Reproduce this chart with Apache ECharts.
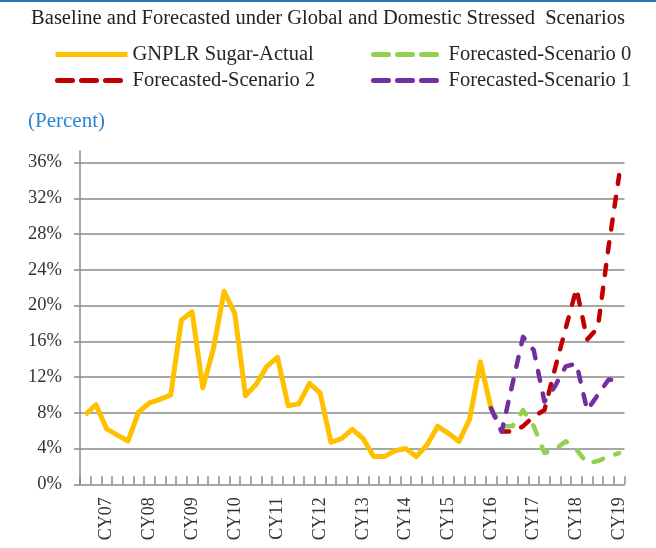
<!DOCTYPE html>
<html><head><meta charset="utf-8">
<script src="https://cdn.jsdelivr.net/npm/echarts@6/dist/echarts.min.js"></script>
<style>html,body{margin:0;padding:0;background:#fff}#c{width:656px;height:548px}</style>
</head><body><div id="c"></div>
<script>
// Quarterly categories: Jun-07 .. Dec-19 (51 quarters)
const quarters = [
  'Jun-07','Sep-07','Dec-07',
  'Mar-08','Jun-08','Sep-08','Dec-08',
  'Mar-09','Jun-09','Sep-09','Dec-09',
  'Mar-10','Jun-10','Sep-10','Dec-10',
  'Mar-11','Jun-11','Sep-11','Dec-11',
  'Mar-12','Jun-12','Sep-12','Dec-12',
  'Mar-13','Jun-13','Sep-13','Dec-13',
  'Mar-14','Jun-14','Sep-14','Dec-14',
  'Mar-15','Jun-15','Sep-15','Dec-15',
  'Mar-16','Jun-16','Sep-16','Dec-16',
  'Mar-17','Jun-17','Sep-17','Dec-17',
  'Mar-18','Jun-18','Sep-18','Dec-18',
  'Mar-19','Jun-19','Sep-19','Dec-19'
];
const yearLabels = ['CY07','CY08','CY09','CY10','CY11','CY12','CY13','CY14','CY15','CY16','CY17','CY18','CY19'];
const yTickValues = [0,4,8,12,16,20,24,28,32,36];
const gridValues = [4,8,12,16,20,24,28,32,36];

// GNPLR Sugar - Actual (Jun-07 .. Dec-16)
const actual = [7.8,8.9,6.2,5.5,4.85,8.1,9.1,9.5,10.0,18.4,19.3,10.8,15.2,21.6,19.1,9.9,11.2,13.2,14.2,8.8,9.0,11.3,10.2,4.7,5.1,6.15,5.15,3.1,3.1,3.75,4.0,3.1,4.4,6.5,5.7,4.8,7.3,13.7,8.5];
// Forecasts (Dec-16 .. Dec-19)
const forecastStart = 38;
const scenario0 = [8.5,6.5,6.5,8.3,6.5,3.5,3.9,4.8,3.9,2.35,2.6,3.1,3.5];
const scenario1 = [8.5,5.9,11.2,16.5,15.0,9.25,11.0,13.2,13.5,8.3,10.0,11.7,11.7];
const scenario2 = [8.5,5.9,5.9,6.5,7.6,8.3,13.0,17.5,21.9,16.2,17.5,26.5,34.6];

const names = ['GNPLR Sugar-Actual','Forecasted-Scenario 0','Forecasted-Scenario 2','Forecasted-Scenario 1'];
const colors = {'GNPLR Sugar-Actual':'#FFC000','Forecasted-Scenario 0':'#92D050','Forecasted-Scenario 2':'#C00000','Forecasted-Scenario 1':'#7030A0'};

function fromStart(arr, start){ return quarters.map((q,i)=> (i>=start && i-start<arr.length) ? arr[i-start] : null); }

const FONT = 'Liberation Serif';
const GRAY = '#8a8a8a';
const dash = [10,13];

function lineSeries(name, data, dashed){
  return {
    name, type:'line', data, symbol:'none', connectNulls:false, xAxisIndex:0, yAxisIndex:0,
    lineStyle:{color:colors[name], width: dashed?4.5:5, type: dashed?dash:'solid', cap: dashed?'round':'butt', join:'round'},
    itemStyle:{color:colors[name]}
  };
}

function legendAt(name, left, top, dashed){
  return {
    data:[name], left, top, orient:'horizontal', selectedMode:false, padding:0,
    itemWidth: dashed?70:72, itemHeight:14,
    textStyle:{fontFamily:FONT, fontSize:20.5, color:'#262626'},
    itemStyle:{opacity:0, borderWidth:0},
    lineStyle:{width:5, type: dashed?[15,9]:'solid', opacity:1}
  };
}

const option = {
  animation:false,
  backgroundColor:'#ffffff',
  textStyle:{fontFamily:FONT},
  graphic:[{type:'rect', shape:{x:0,y:0,width:656,height:2}, style:{fill:'#2e75b6'}}],
  title:[
    {text:'Baseline and Forecasted under Global and Domestic Stressed  Scenarios', left:'center', top:3,
     textStyle:{fontFamily:FONT, fontSize:20.5, fontWeight:'normal', color:'#222'}},
    {text:'(Percent)', left:23, top:106, textStyle:{fontFamily:FONT, fontSize:21, fontWeight:'normal', color:'#2a86d1'}}
  ],
  legend:[
    legendAt(names[0], 53, 44, false),
    legendAt(names[1], 371, 44, true),
    legendAt(names[2], 55, 70, true),
    legendAt(names[3], 371, 70, true)
  ],
  grid:{left:80, right:31.5, top:151, bottom:63.7, containLabel:false},
  xAxis:[
    {type:'category', data:quarters, position:'bottom', boundaryGap:true,
     axisLine:{show:false}, axisTick:{show:false}, splitLine:{show:false},
     axisLabel:{interval:(i)=> i%4===2, rotate:90, margin:13, fontFamily:FONT, fontSize:18, color:'#333',
       formatter:(v,i)=> yearLabels[(i-2)/4] || ''}},
    {type:'category', data:quarters, position:'top', boundaryGap:true,
     axisLine:{show:true, lineStyle:{color:GRAY, width:1.5}},
     axisTick:{show:true, interval:0, length:8, lineStyle:{color:GRAY, width:1.5}},
     axisLabel:{show:false}, splitLine:{show:false}}
  ],
  yAxis:[
    {type:'value', min:0, max:37.3, position:'left',
     axisLine:{show:true, lineStyle:{color:GRAY, width:1.5}},
     axisTick:{show:true, length:6, customValues:yTickValues, lineStyle:{color:GRAY, width:1.5}},
     axisLabel:{customValues:yTickValues, formatter:(v)=> v+'%', margin:18, fontFamily:FONT, fontSize:18.5, color:'#333'},
     splitLine:{show:false}},
    {type:'value', min:0, max:37.3, position:'left',
     axisLine:{show:false}, axisTick:{show:false, customValues:gridValues}, axisLabel:{show:false},
     splitLine:{show:true, lineStyle:{color:GRAY, width:1.5}}}
  ],
  series:[
    lineSeries(names[0], fromStart(actual,0), false),
    lineSeries(names[2], fromStart(scenario2,forecastStart), true),
    lineSeries(names[1], fromStart(scenario0,forecastStart), true),
    lineSeries(names[3], fromStart(scenario1,forecastStart), true)
  ]
};
const chart = echarts.init(document.getElementById('c'), null, {renderer:'canvas'});
chart.setOption(option);
</script>
</body></html>
